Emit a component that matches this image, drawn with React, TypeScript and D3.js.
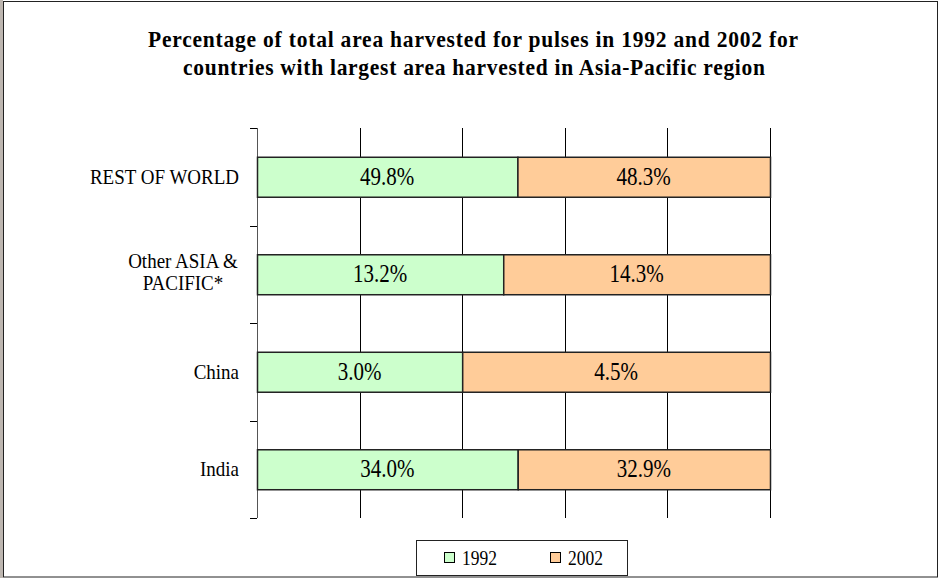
import React from "react";
import * as d3 from "d3";

// chart values
const categories = ["REST OF WORLD", "Other ASIA & PACIFIC*", "China", "India"];
const values1992 = [49.8, 13.2, 3.0, 34.0];
const values2002 = [48.3, 14.3, 4.5, 32.9];
const seriesNames = ["1992", "2002"];
const seriesColors = ["#CCFFCC", "#FFCC99"];
const titleLines = [
  "Percentage of total area harvested for pulses in 1992 and 2002 for",
  "countries with largest area harvested in Asia-Pacific region",
];

const W = 939;
const H = 578;
const font = "Liberation Serif, DejaVu Serif, serif";

// category labels split into lines, as in the original
function labelLines(c: string): string[] {
  if (c === "Other ASIA & PACIFIC*") return ["Other ASIA &", "PACIFIC*"];
  return [c];
}

export default function App() {
  const rows = categories.map((c, i) => ({
    cat: c,
    "1992": values1992[i],
    "2002": values2002[i],
  }));
  const stacked = d3.stack<any>().keys(seriesNames).offset(d3.stackOffsetExpand)(rows);

  const left = 257;
  const right = 770;
  const top = 128;
  const bottom = 518;

  const x = d3.scaleLinear().domain([0, 1]).range([left, right]);
  const y = d3.scaleBand().domain(categories).range([top, bottom]).paddingInner(0.59).paddingOuter(0.295);
  const gridTicks = d3.range(0, 1.0001, 0.2);
  const boundaries = d3.range(categories.length + 1).map((i) => top + (i * (bottom - top)) / categories.length);

  const rawVals = [values1992, values2002];
  // the original text is a little taller than it is wide
  const stretch = "scale(1,1.16)";

  return (
    <svg width={W} height={H} style={{ position: "absolute", left: 0, top: 0, background: "#fff" }}>
      <rect x={0} y={0} width={3} height={H} fill="#bdb6b0" />
      <rect x={3.5} y={1.5} width={W - 5} height={H - 2.5} fill="#fff" stroke="#222" strokeWidth={1} />

      {titleLines.map((t, i) => (
        <g key={i} transform={`translate(${i === 0 ? 148 : 183},${47 + i * 28}) scale(1,1.1)`}>
          <text
            textLength={i === 0 ? 650 : 582}
            lengthAdjust="spacing"
            fontFamily={font}
            fontWeight="bold"
            fontSize={21.5}
            fill="#000"
          >
            {t}
          </text>
        </g>
      ))}

      {/* vertical gridlines */}
      {gridTicks.map((t, i) => (
        <line key={i} x1={Math.round(x(t)) + 0.5} x2={Math.round(x(t)) + 0.5} y1={top} y2={bottom} stroke={i === 0 ? "#555" : "#000"} strokeWidth={1} />
      ))}

      {/* category axis ticks */}
      {boundaries.map((b, i) => (
        <line key={i} x1={left - 7} x2={left} y1={Math.round(b) + 0.5} y2={Math.round(b) + 0.5} stroke="#000" />
      ))}

      {/* bars */}
      {stacked.map((s, si) =>
        s.map((d, i) => {
          const x0 = x(d[0]);
          const x1 = x(d[1]);
          const yy = y(categories[i])!;
          return (
            <g key={`${si}-${i}`}>
              <rect x={x0 + 0.5} y={yy + 0.5} width={x1 - x0} height={y.bandwidth()} fill={seriesColors[si]} stroke="#222" strokeWidth={1.5} />
              <g transform={`translate(${(x0 + x1) / 2},${yy + y.bandwidth() / 2 + 8}) ${stretch}`}>
                <text textAnchor="middle" fontFamily={font} fontSize={21} fill="#000">
                  {rawVals[si][i].toFixed(1)}%
                </text>
              </g>
            </g>
          );
        })
      )}

      {/* category labels; wrapped ones are centred on their widest line */}
      {categories.map((c) => {
        const lines = labelLines(c);
        const cy = y(c)! + y.bandwidth() / 2;
        const multi = lines.length > 1;
        return lines.map((l, j) => {
          const base = multi ? cy - 6 + j * 22 : cy + 7;
          return (
            <g key={c + j} transform={`translate(${multi ? 183 : 239},${base}) scale(1,1.06)`}>
              <text textAnchor={multi ? "middle" : "end"} fontFamily={font} fontSize={19} fill="#000">
                {l}
              </text>
            </g>
          );
        });
      })}

      {/* legend */}
      <rect x={416.5} y={540.5} width={211} height={35} fill="#fff" stroke="#222" strokeWidth={1} />
      {seriesNames.map((n, i) => (
        <g key={n} transform={`translate(${445 + i * 106}, 558)`}>
          <rect x={-0.5} y={-5.5} width={10} height={10} fill={seriesColors[i]} stroke="#000" strokeWidth={1} />
          <g transform={`translate(17,6.5) ${stretch}`}>
            <text fontFamily={font} fontSize={17.5} fill="#000">
              {n}
            </text>
          </g>
        </g>
      ))}
    </svg>
  );
}
